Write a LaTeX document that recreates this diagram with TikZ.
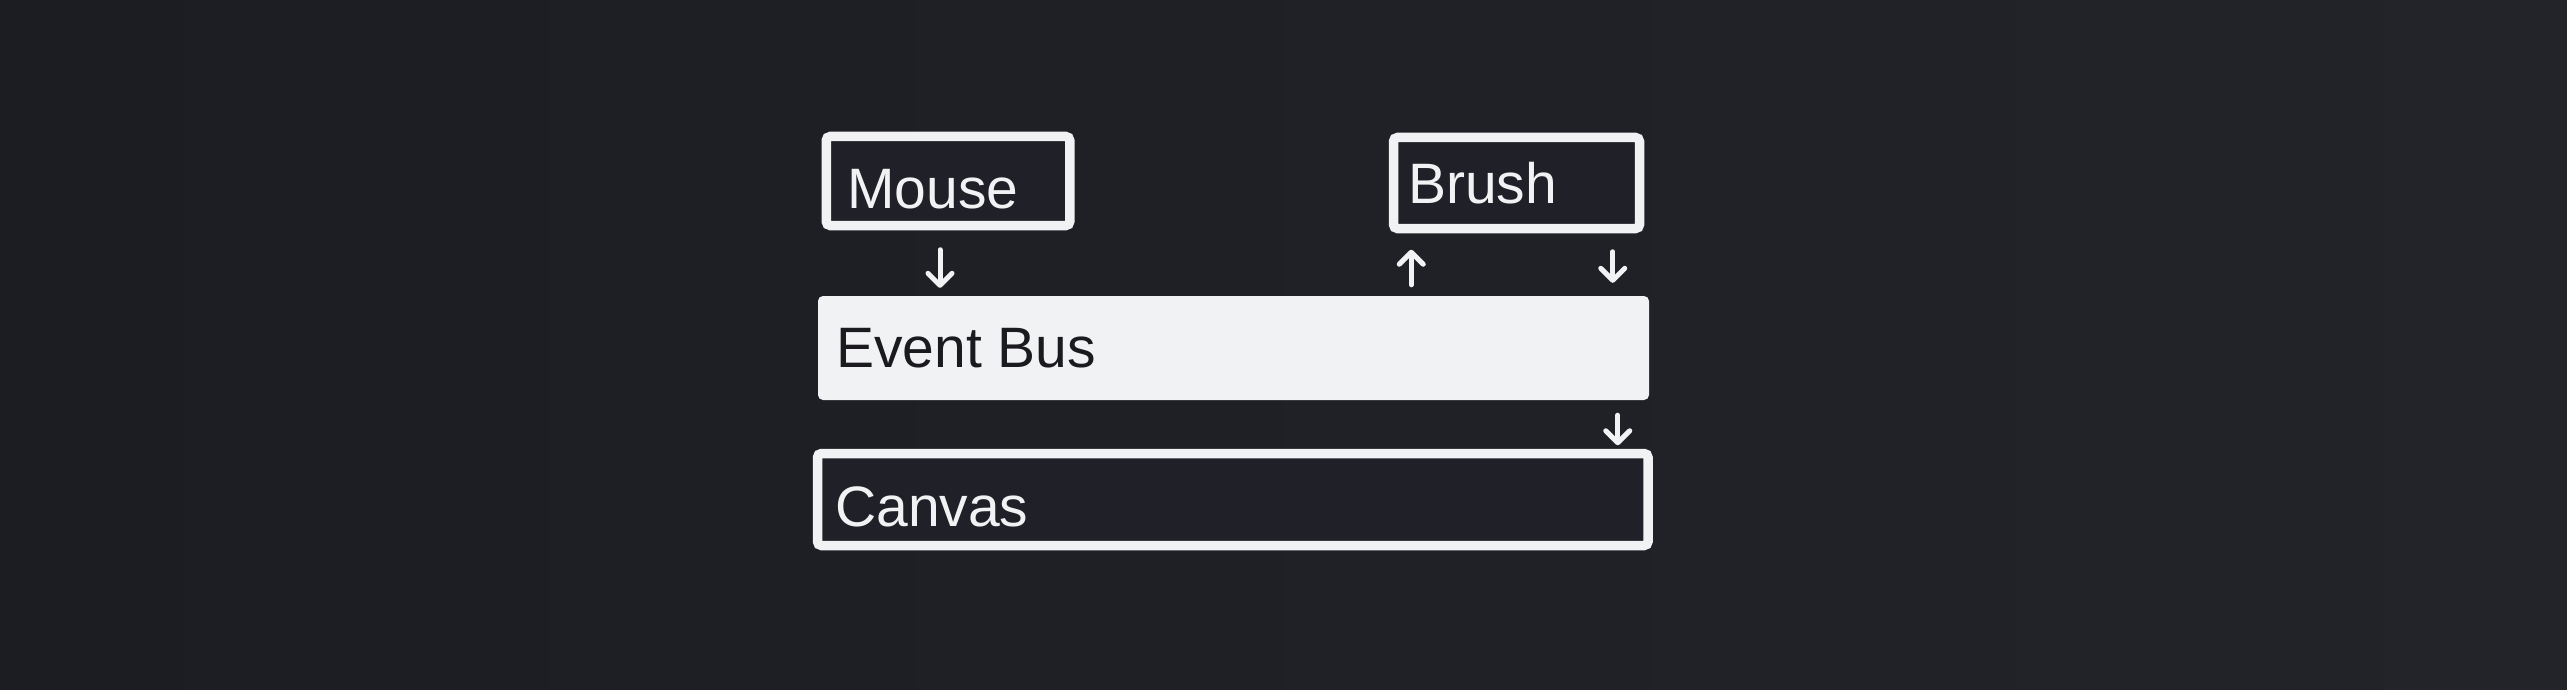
\documentclass[tikz,border=0pt]{standalone}
\usepackage{fontspec}
\setmainfont{Liberation Sans}
\usetikzlibrary{arrows.meta}
\definecolor{bg}{HTML}{202128}
\definecolor{bgl}{HTML}{1C1D22}
\definecolor{bgr}{HTML}{23242A}
\definecolor{ink}{HTML}{F1F2F4}
\definecolor{dark}{HTML}{1B1B1F}
\tikzset{
  box/.style={draw=ink, line width=9.5pt, rounded corners=4pt, fill=bg, inner sep=0pt},
  filledbox/.style={fill=ink, draw=none, rounded corners=5pt, inner sep=0pt},
  lbl/.style={anchor=base west, inner sep=0pt, font=\fontsize{57pt}{66pt}\selectfont},
  arr/.style={draw=ink, line width=5pt, line cap=round, -{Straight Barb[length=12pt,width=24pt,round]}},
}
\begin{document}
\begin{tikzpicture}[x=1pt,y=-1pt]
\shade[left color=bgl, right color=bgr] (0,0) rectangle (2567,690);
\useasboundingbox (0,0) rectangle (2567,690);

\node[box, minimum width=243.5pt, minimum height=89pt] (mouse) at (948,181) {};
\node[box, minimum width=246pt, minimum height=91pt] (brush) at (1516.5,183) {};
\node[filledbox, minimum width=831pt, minimum height=104pt] (bus) at (1233.5,348) {};
\node[box, minimum width=830.5pt, minimum height=92pt] (canvas) at (1232.75,499.5) {};

\node[lbl, text=ink] (mouselbl) at (847,208) {Mouse};
\node[lbl, text=ink] (brushlbl) at (1408,203) {Brush};
\node[lbl, text=dark] (buslbl) at (836,367) {Event Bus};
\node[lbl, text=ink] (canvaslbl) at (835,526) {Canvas};

\draw[arr, shorten <=19.5pt, shorten >=8pt] ([xshift=-8pt]mouse.south) -- ([xshift=-8pt]mouse.south |- bus.north);
\draw[arr, shorten <=11pt, shorten >=16.5pt] ([xshift=22.5pt]brush.south west |- bus.north) -- ([xshift=22.5pt]brush.south west);
\draw[arr, shorten <=18.5pt, shorten >=13pt] ([xshift=-31.5pt]brush.south east) -- ([xshift=-31.5pt]brush.south east |- bus.north);
\draw[arr, shorten <=15pt, shorten >=3.5pt] ([xshift=-35pt]canvas.north east |- bus.south) -- ([xshift=-35pt]canvas.north east);
\end{tikzpicture}
\end{document}
